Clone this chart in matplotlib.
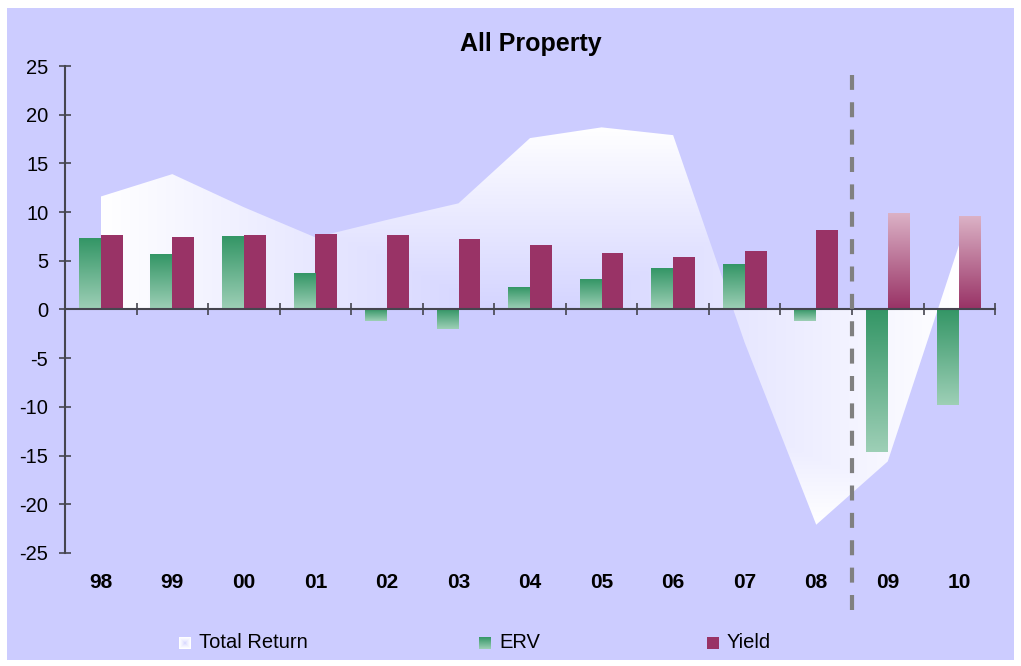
import numpy as np
import matplotlib
matplotlib.use('Agg')
import matplotlib.pyplot as plt
from matplotlib.colors import to_rgb
from matplotlib.patches import Rectangle, PathPatch
from matplotlib.transforms import blended_transform_factory

plt.rcParams['font.family'] = ['Liberation Sans', 'DejaVu Sans']
plt.rcParams['axes.unicode_minus'] = False

years = ['98', '99', '00', '01', '02', '03', '04', '05', '06', '07', '08', '09', '10']
total_return = [11.6, 13.9, 10.5, 7.4, 9.2, 10.9, 17.6, 18.7, 17.9, -3.4, -22.1, -15.6, 6.7]
erv = [7.2, 5.6, 7.4, 3.6, -1.2, -2.0, 2.2, 3.0, 4.2, 4.6, -1.2, -14.6, -9.8]
yield_ = [7.6, 7.4, 7.6, 7.8, 7.6, 7.2, 6.6, 5.8, 5.4, 6.0, 8.2, 9.8, 9.5]
forecast_from = 11  # 09 and 10 are forecasts

bg = '#CCCCFF'
green_top = '#349666'
green_bot = '#9DCFB6'
purple = '#993366'
pink_top = '#DBB1C5'
axis_col = '#45454F'


def vgrad(top, bot, n=64):
    t = np.linspace(0, 1, n)[:, None, None]
    return (1 - t) * np.array(to_rgb(top)) + t * np.array(to_rgb(bot))


def center_grad(nx, ny, power=1.0):
    gx, gy = np.meshgrid(np.linspace(-1, 1, nx), np.linspace(-1, 1, ny))
    t = np.maximum(np.abs(gx), np.abs(gy)) ** power
    c0 = np.array(to_rgb('#D0D0FF'))
    return (1 - t[..., None]) * c0 + t[..., None] * np.ones(3)


def fill_bar(ax, rect, top, bot):
    x0, w = rect.get_x(), rect.get_width()
    y0, h = rect.get_y(), rect.get_height()
    ax.imshow(vgrad(top, bot), extent=[x0, x0 + w, min(y0, y0 + h), max(y0, y0 + h)],
              aspect='auto', origin='upper', zorder=2, interpolation='bilinear')


fig = plt.figure(figsize=(10.21, 6.66), dpi=100)
fig.patches.append(Rectangle((0.007, 0.009), 0.986, 0.979, transform=fig.transFigure,
                             facecolor=bg, edgecolor='none', zorder=-10))

ax = fig.add_axes([0.0637, 0.1697, 0.9109, 0.7312])
ax.set_facecolor('none')
ax.set_axisbelow(False)

x = np.arange(len(years))

# total return area with gradient from centre
area = ax.fill_between(x, total_return, 0, facecolor='none', edgecolor='none')
clip = PathPatch(area.get_paths()[0], transform=ax.transData, facecolor='none', edgecolor='none')
ax.add_patch(clip)
im = ax.imshow(center_grad(300, 300), extent=[x[0], x[-1], min(total_return), max(total_return)],
               aspect='auto', origin='upper', zorder=1, interpolation='bilinear')
im.set_clip_path(clip)

bw = 0.306
erv_bars = ax.bar(x - bw / 2, erv, bw, color='none', edgecolor='none')
yld_bars = ax.bar(x + bw / 2, yield_, bw, color='none', edgecolor='none')
for r in erv_bars.patches:
    fill_bar(ax, r, green_top, green_bot)
for i, r in enumerate(yld_bars.patches):
    if i >= forecast_from:
        fill_bar(ax, r, pink_top, purple)
    else:
        r.set_facecolor(purple)
        r.set_zorder(2)

ax.set_xlim(-0.5, len(years) - 0.5)
ax.set_ylim(-25, 25)

# axes styling
for s in ['top', 'right']:
    ax.spines[s].set_visible(False)
ax.spines['bottom'].set_position(('data', 0))
for s in ['left', 'bottom']:
    ax.spines[s].set_color(axis_col)
    ax.spines[s].set_linewidth(1.5)
    ax.spines[s].set_zorder(3)

ax.set_yticks(np.arange(-25, 26, 5))
ax.tick_params(axis='y', direction='inout', length=9, width=1.2, color=axis_col,
               labelsize=14.5, pad=7.5)
ax.set_xticks(np.arange(-0.5, len(years), 1))
ax.set_xticklabels([])
ax.tick_params(axis='x', direction='inout', length=9, width=1.2, color=axis_col)

trans = blended_transform_factory(ax.transData, ax.transAxes)
for i, lab in enumerate(years):
    ax.text(i, -0.0616, lab, transform=trans, ha='center', va='center',
            fontsize=15, fontweight='bold')

# forecast divider
ax.axvline(forecast_from - 0.5, ymin=-0.117, ymax=0.9815, color='#808080', lw=3,
           dashes=(3.6, 2.97), clip_on=False, zorder=4, dash_capstyle='butt')

fig.text(0.520, 0.934, 'All Property', ha='center', va='center', fontsize=18, fontweight='bold')

# legend
W, H = 1021, 666
legend_items = [
    ('Total Return', center_grad(12, 12, 0.6), 179, 199),
    ('ERV', vgrad(green_top, green_bot), 479, 499),
    ('Yield', vgrad(purple, purple), 707, 727),
]
for label, img, mx, tx in legend_items:
    lax = fig.add_axes([mx / W, 1 - 649 / H, 12 / W, 12 / H])
    lax.imshow(img, aspect='auto', interpolation='bilinear')
    lax.axis('off')
    fig.text(tx / W, 1 - 642 / H, label, ha='left', va='center', fontsize=14.5)

fig.savefig('out.png', dpi=100)
